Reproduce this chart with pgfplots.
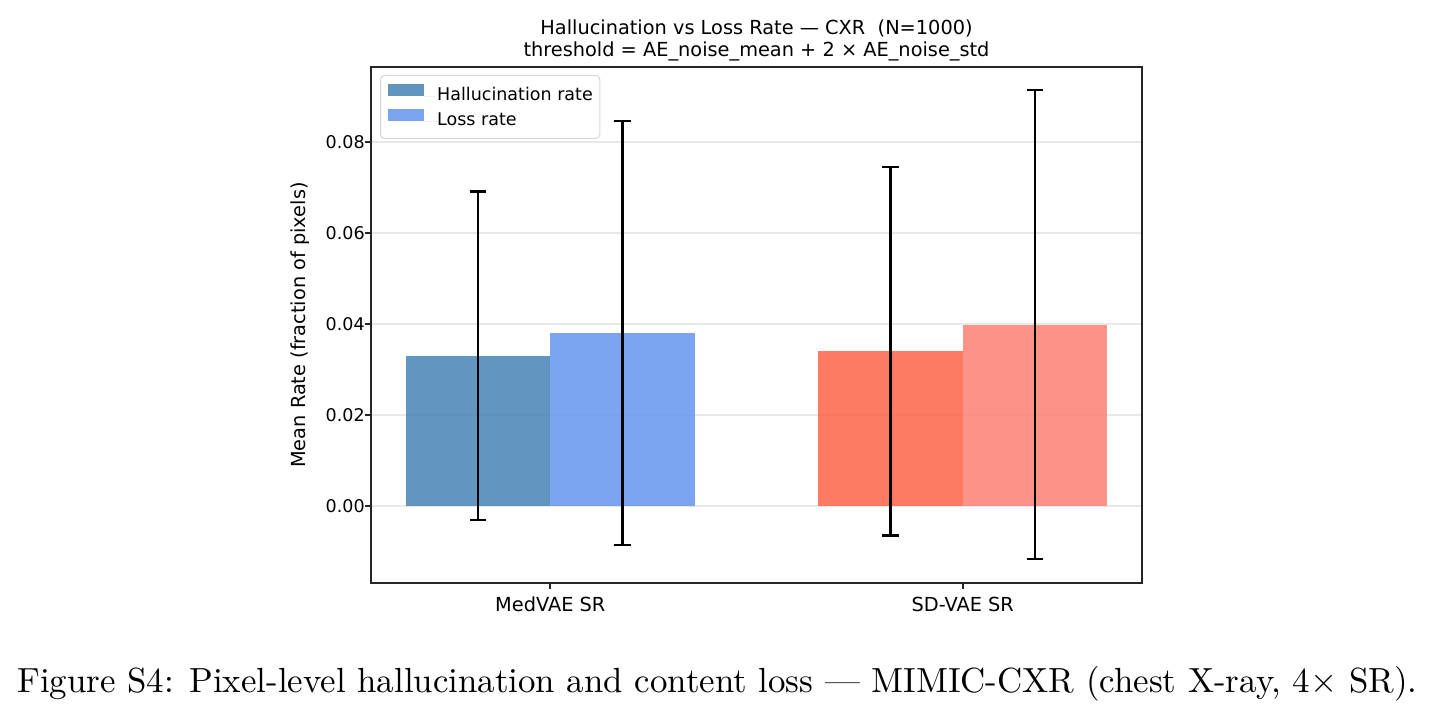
\documentclass[border=0pt]{standalone}
\usepackage{fontspec}
\usepackage{graphicx}
\usepackage{pgfplots}
\pgfplotsset{compat=1.18}
\newfontfamily\dv{DejaVu Sans}

\definecolor{steelblue}{RGB}{70,130,180}
\definecolor{cornflower}{RGB}{100,149,237}
\definecolor{tomato}{RGB}{255,99,71}
\definecolor{salmon}{RGB}{250,128,114}
\definecolor{gridgray}{RGB}{232,232,232}
\definecolor{legendedge}{RGB}{214,214,214}

\newcommand{\tickfont}{\dv\fontsize{5.25}{6.3}\selectfont}
\newcommand{\labelfont}{\dv\fontsize{5.8}{6.9}\selectfont}
\newcommand{\titlefont}{\dv\fontsize{5.8}{6.9}\selectfont}

\begin{document}
\begin{tikzpicture}
\path[use as bounding box] (0,0) rectangle (430.2pt,213pt);

\begin{axis}[
  at={(111.3pt,38.1pt)}, anchor=south west,
  scale only axis,
  width=231.3pt, height=154.8pt,
  xmin=-0.4345, xmax=1.4345,
  ymin=-0.0169, ymax=0.0965,
  axis line style={line width=0.5pt, black!85},
  xtick={0,1},
  xticklabels={MedVAE SR, SD-VAE SR},
  ytick={0,0.02,0.04,0.06,0.08},
  yticklabel style={/pgf/number format/fixed, /pgf/number format/fixed zerofill, /pgf/number format/precision=2, anchor=east, inner sep=0pt, font=\tickfont},
  /pgf/number format/assume math mode=true,
  scaled y ticks=false,
  tick align=outside,
  tick pos=left,
  major tick length=1.7pt,
  tick style={line width=0.5pt, black!85},
  ymajorgrids,
  grid style={gridgray, line width=0.4pt},
  xticklabel style={anchor=base, inner sep=0pt, yshift=-6.9pt, font=\labelfont},
  ylabel={Mean Rate (fraction of pixels)},
  ylabel style={font=\labelfont, at={(axis description cs:-0.0921,0.5)}, anchor=center},
  legend style={
    at={(axis description cs:0.0117,0.9845)}, anchor=north west,
    draw=legendedge, line width=0.3pt, rounded corners=1.2pt, fill=white,
    font=\tickfont,
    inner xsep=2.1pt, inner ysep=2.6pt,
    row sep=1.3pt,
    nodes={inner sep=0pt, text height=3.8pt, text depth=1.2pt},
  },
  legend cell align=left,
  error bars/y dir=both,
  error bars/y explicit,
  error bars/error bar style={line width=0.75pt, black},
  error bars/error mark options={rotate=90, mark size=2.5pt, line width=0.75pt, black},
]

% MedVAE SR: hallucination and loss rate, mean +- std
\addplot[ybar, bar width=0.35, bar shift=0pt, draw=none, fill=steelblue, fill opacity=0.85,
  legend image code/.code={\fill[steelblue, sharp corners] (0pt,0pt) rectangle (11pt,3.7pt); \path (11pt,0pt) -- (14.9pt,0pt);}]
  coordinates {(-0.175,0.0330) +- (0,0.0361)};
\addlegendentry{Hallucination rate}

\addplot[ybar, bar width=0.35, bar shift=0pt, draw=none, fill=cornflower, fill opacity=0.85,
  legend image code/.code={\fill[cornflower, sharp corners] (0pt,0pt) rectangle (11pt,3.7pt); \path (11pt,0pt) -- (14.9pt,0pt);}]
  coordinates {(0.175,0.0380) +- (0,0.0466)};
\addlegendentry{Loss rate}

% SD-VAE SR
\addplot[ybar, bar width=0.35, bar shift=0pt, draw=none, fill=tomato, fill opacity=0.85, forget plot]
  coordinates {(0.825,0.0340) +- (0,0.0405)};
\addplot[ybar, bar width=0.35, bar shift=0pt, draw=none, fill=salmon, fill opacity=0.85, forget plot]
  coordinates {(1.175,0.0399) +- (0,0.0515)};
\end{axis}

% title
\node[font=\titlefont, anchor=base] at (226.95pt,202.5pt) {Hallucination vs Loss Rate — CXR\ \ (N=1000)};
\node[font=\titlefont, anchor=base] at (226.95pt,196.0pt) {threshold = AE\_noise\_mean + 2 × AE\_noise\_std};

% caption
\node[anchor=base west, inner sep=0pt] at (5pt,5.1pt)
  {\resizebox{420pt}{!}{Figure S4: Pixel-level hallucination and content loss — MIMIC-CXR (chest X-ray, 4× SR).}};
\end{tikzpicture}
\end{document}
